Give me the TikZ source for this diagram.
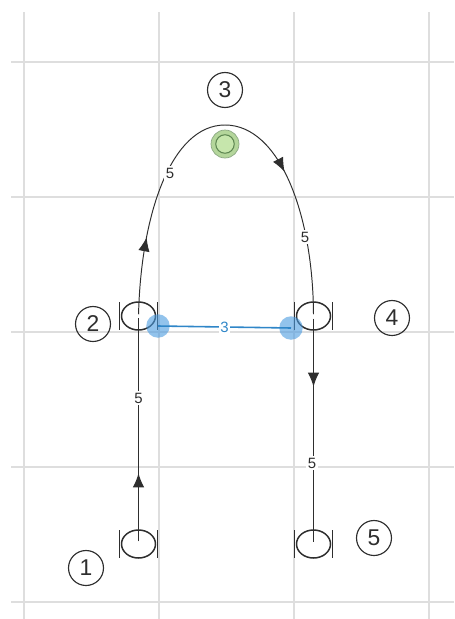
\documentclass[tikz,border=0pt]{standalone}
\usepackage{fontspec}
\setmainfont{Liberation Sans}
\usetikzlibrary{arrows.meta,decorations.markings,shapes.geometric}
\definecolor{gridgray}{HTML}{DEDEDE}
\definecolor{linegray}{HTML}{2E2E2E}
\definecolor{linkblue}{HTML}{2F86C8}
\definecolor{dotblue}{HTML}{4A9BE0}
\definecolor{dotgreen}{HTML}{B4D69B}
\definecolor{dotgreenin}{HTML}{C6E6AC}
\definecolor{edgegreen}{HTML}{5C8550}
\tikzset{
    numbered/.style={draw=linegray, circle, inner sep=0pt, minimum size=0.7cm, line width=0.65pt, font=\fontsize{13}{14}\selectfont, text=linegray},
    bearing/.style={draw=linegray, ellipse, inner sep=0pt, minimum width=0.68cm, minimum height=0.56cm, line width=0.85pt},
    weight/.style={fill=white, inner sep=1pt, font=\fontsize{8.5}{9}\selectfont, text=linegray},
    path line/.style={draw=linegray, line width=0.55pt},
    tip at/.style={postaction={decorate}, decoration={markings, mark=at position #1 with {\arrow{Latex[length=8pt,width=6.5pt]}}}},
    blue dot/.style={fill=dotblue, fill opacity=0.6, circle, inner sep=0pt, minimum size=0.47cm}
}
\begin{document}
\begin{tikzpicture}[x=0.02cm, y=-0.02cm]
    \useasboundingbox (0,0) rectangle (454,619);
    \fill[white] (0,0) rectangle (454,619);

    % Draw the background grid
    \foreach \x in {24,159,294,429} \draw[gridgray, line width=0.7pt] (\x,12) -- (\x,619);
    \foreach \y in {62,197,332,467,602} \draw[gridgray, line width=0.7pt] (11,\y) -- (454,\y);

    % Draw the four stops with their side bars
    \foreach \name/\x/\y in {b1/138.5/544, b2/138.5/316, b4/313.5/316, b5/313.5/544} {
        \node[bearing] (\name) at (\x,\y) {};
        \draw[linegray, line width=0.85pt] (\name.west) ++(-1.5,-14) -- ++(0,28);
        \draw[linegray, line width=0.85pt] (\name.east) ++(1.5,-14) -- ++(0,28);
    }

    % Draw the route through the stops
    \coordinate (top) at (225,125);
    \draw[path line, tip at=0.31, shorten <=1.5pt, shorten >=1pt] (b1.center) -- node[weight, pos=0.64] {5} (b2.center);
    \draw[path line, tip at=0.35, shorten <=1pt] (b2.center) .. controls (141,215) and (171,125) .. (top);
    \draw[path line, tip at=0.35, shorten >=1pt] (top) .. controls (280,125) and (313,215) .. (b4.center);
    \draw[path line, tip at=0.31, shorten <=1.5pt, shorten >=1pt] (b4.center) -- (b5.center);
    \node[weight] (w2) at (170,173) {5};
    \node[weight] (w3) at (305,237) {5};
    \node[weight] (w4) at (312,463) {5};

    % Draw the blue link
    \node[blue dot] (d2) at (158,326) {};
    \node[blue dot] (d4) at (291,328) {};
    \draw[linkblue, line width=0.9pt] (d2.center) -- node[weight, text=linkblue] {3} (d4.center);

    % Draw the green marker
    \node[fill=dotgreen, draw=edgegreen!70, circle, inner sep=0pt, minimum size=0.56cm, line width=0.4pt] (g) at (225,144) {};
    \node[fill=dotgreenin, draw=edgegreen, circle, inner sep=0pt, minimum size=0.37cm, line width=0.6pt] (gin) at (g) {};

    % Draw the numbers
    \node[numbered] (n1) at (86,568) {1};
    \node[numbered] (n2) at (93,324) {2};
    \node[numbered] (n3) at (225,90) {3};
    \node[numbered] (n4) at (392,318) {4};
    \node[numbered] (n5) at (374,538) {5};
\end{tikzpicture}
\end{document}
